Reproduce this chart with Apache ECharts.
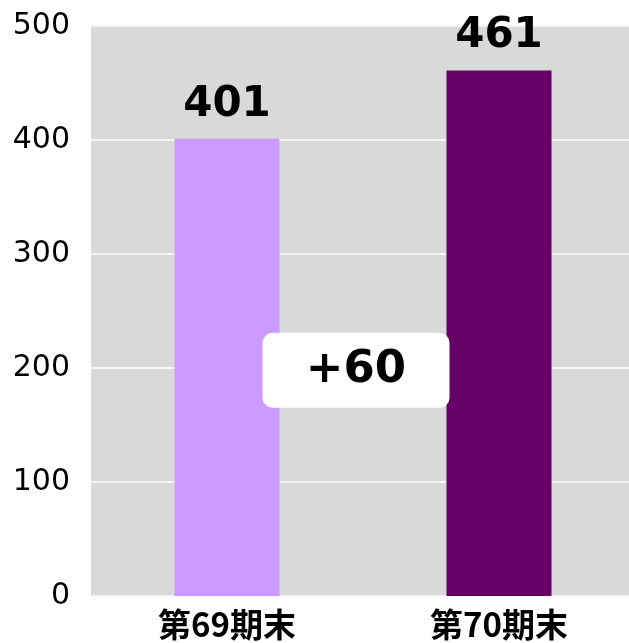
<!DOCTYPE html>
<html>
<head>
<meta charset="utf-8">
<script src="https://cdn.jsdelivr.net/npm/echarts@6/dist/echarts.min.js"></script>
<style>
  html, body { margin: 0; padding: 0; background: #fff; overflow: hidden; }
  /* the plot area runs slightly past the right edge of the window */
  #chart { width: 636px; height: 643px; }
</style>
</head>
<body>
<div id="chart"></div>
<script>
// Period-end values
const categories = ['第69期末', '第70期末'];
const values = [401, 461];
const barColors = ['#cc99ff', '#660066'];
const yTicks = [0, 100, 200, 300, 400, 500];

const chart = echarts.init(document.getElementById('chart'));

const option = {
  animation: false,
  grid: {
    left: 91, top: 26, right: 1, bottom: 47,
    show: true, backgroundColor: '#d9d9d9', borderWidth: 0
  },
  xAxis: {
    type: 'category',
    data: categories,
    axisLine: { show: false },
    axisTick: { show: false },
    axisLabel: {
      fontFamily: 'Noto Sans CJK JP', fontWeight: 'bold', fontSize: 33,
      color: '#000', margin: 12
    }
  },
  yAxis: {
    type: 'value',
    min: yTicks[0], max: yTicks[yTicks.length - 1], interval: 100,
    axisLine: { show: false },
    axisTick: { show: false },
    splitLine: { lineStyle: { color: '#f4f4f4', width: 2 } },
    axisLabel: {
      fontFamily: 'DejaVu Sans', fontSize: 30, color: '#000', margin: 21
    }
  },
  series: [{
    type: 'bar',
    barWidth: 105,
    data: values.map((v, i) => ({ value: v, itemStyle: { color: barColors[i] } })),
    label: {
      show: true, position: 'top', distance: 13,
      fontFamily: 'DejaVu Sans', fontWeight: 'bold', fontSize: 42, color: '#000'
    }
  }]
};
chart.setOption(option);

// Difference badge between the two bars
const diff = values[1] - values[0];
const p0 = chart.convertToPixel({ gridIndex: 0 }, [0, 198]);
const p1 = chart.convertToPixel({ gridIndex: 0 }, [1, 198]);
const cx = (p0[0] + p1[0]) / 2 - 7;
const cy = p0[1];
const bw = 187, bh = 75;
chart.setOption({
  graphic: [{
    type: 'group',
    x: cx, y: cy, z: 100,
    children: [
      { type: 'rect', z: 100, shape: { x: -bw / 2, y: -bh / 2, width: bw, height: bh, r: 10 },
        style: { fill: '#fff' } },
      { type: 'text', z: 101, x: 0, y: 0,
        style: { text: (diff >= 0 ? '+' : '') + diff, fill: '#000',
          font: 'bold 45px "DejaVu Sans"', align: 'center', verticalAlign: 'middle' } }
    ]
  }]
});
</script>
</body>
</html>
